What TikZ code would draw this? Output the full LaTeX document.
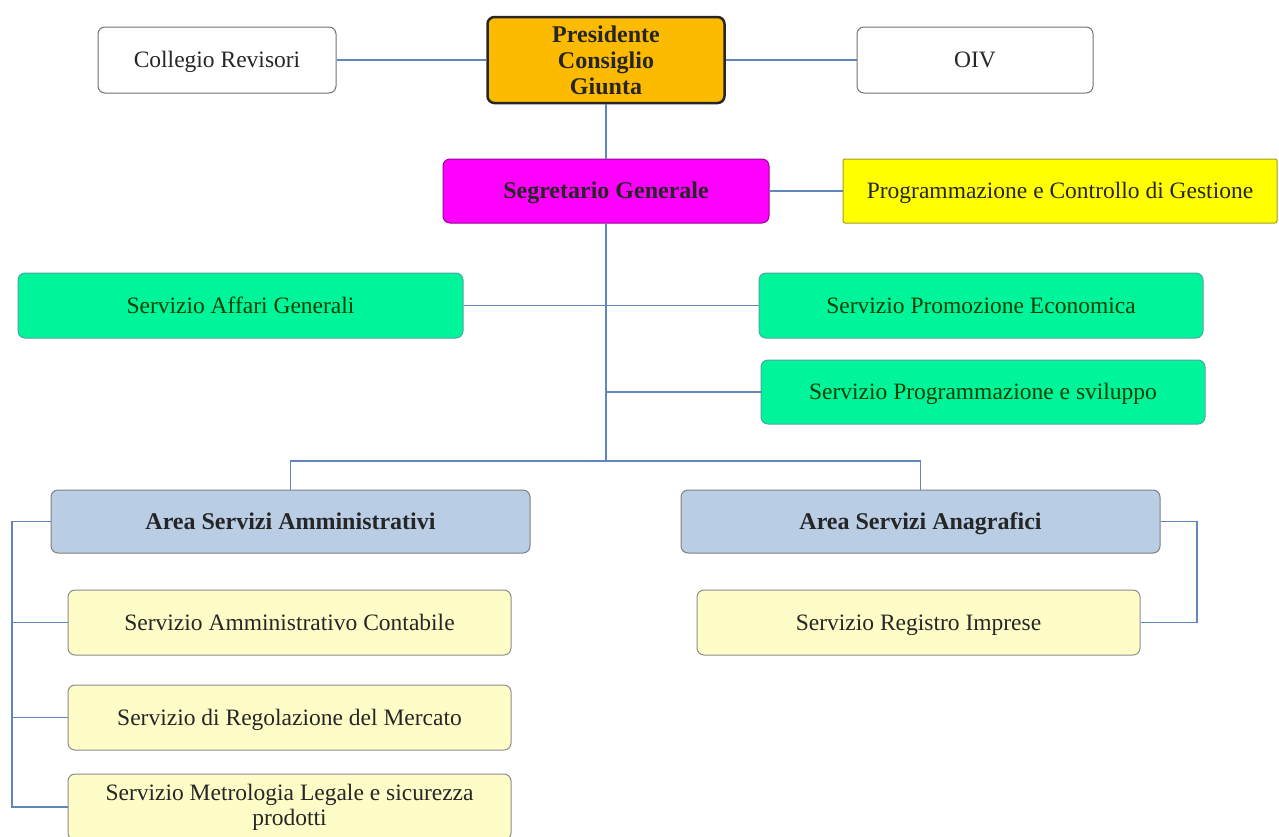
\documentclass[tikz,border=0pt]{standalone}
\usepackage{fontspec}
\setmainfont{Liberation Serif}
\begin{document}
\begin{tikzpicture}[x=1pt,y=-1pt,
  box/.style={draw, rounded corners=7pt, line width=1pt, align=center, inner sep=0pt, font=\fontsize{23.5}{25}\selectfont, text=black!85},
  one/.style={text height=19pt, text depth=4pt},
  bold/.style={font=\fontsize{24}{26}\selectfont\bfseries},
  conn/.style={draw=linkc, line width=1.6pt},
]
\definecolor{linkc}{RGB}{95,135,190}
\definecolor{orangec}{RGB}{252,186,0}
\definecolor{magc}{RGB}{255,0,255}
\definecolor{yelc}{RGB}{255,255,0}
\definecolor{greenc}{RGB}{0,245,155}
\definecolor{areac}{RGB}{185,205,228}
\definecolor{lyellow}{RGB}{254,253,200}
\path[use as bounding box] (0,0) rectangle (1279,836);
\clip (0,0) rectangle (1279,836);
\fill[white] (0,0) rectangle (1279,836);

\node[box, one, draw=black!55, fill=white, minimum width=238pt, minimum height=66pt] (coll) at (217,60) {Collegio Revisori};
\node[box, bold, draw=black!85, line width=2.5pt, fill=orangec, minimum width=237pt, minimum height=86pt] (pres) at (606,60) {Presidente\\Consiglio\\Giunta};
\node[box, one, draw=black!55, fill=white, minimum width=236pt, minimum height=66pt] (oiv) at (975,60) {OIV};
\node[box, one, bold, draw=magc!60!black, fill=magc, minimum width=326pt, minimum height=64pt] (seg) at (606,191) {Segretario Generale};
\node[box, one, draw=olive!80, fill=yelc, rounded corners=2pt, minimum width=434pt, minimum height=64pt] (prog) at (1060,191) {Programmazione e Controllo di Gestione};
\node[box, one, draw=teal!70, fill=greenc, minimum width=445pt, minimum height=65pt, text=green!25!black] (aff) at (240.5,305.5) {Servizio Affari Generali};
\node[box, one, draw=teal!70, fill=greenc, minimum width=444pt, minimum height=65pt, text=green!25!black] (prom) at (981,305.5) {Servizio Promozione Economica};
\node[box, one, draw=teal!70, fill=greenc, minimum width=444pt, minimum height=64pt, text=green!25!black] (svil) at (983,392) {Servizio Programmazione e sviluppo};
\node[box, one, bold, draw=black!50, fill=areac, minimum width=479pt, minimum height=63pt] (asa) at (290.5,521.5) {Area Servizi Amministrativi};
\node[box, one, bold, draw=black!50, fill=areac, minimum width=479pt, minimum height=63pt] (asn) at (920.5,521.5) {Area Servizi Anagrafici};
\node[box, one, draw=black!45, fill=lyellow, minimum width=443pt, minimum height=65pt] (cont) at (289.5,622.5) {Servizio Amministrativo Contabile};
\node[box, one, draw=black!45, fill=lyellow, minimum width=443pt, minimum height=65pt] (reg) at (289.5,717.5) {Servizio di Regolazione del Mercato};
\node[box, draw=black!45, fill=lyellow, minimum width=443pt, minimum height=66pt] (met) at (289.5,807) {Servizio Metrologia Legale e sicurezza\\prodotti};
\node[box, one, draw=black!45, fill=lyellow, minimum width=443pt, minimum height=65pt] (rim) at (918.5,622.5) {Servizio Registro Imprese};

\coordinate (j2) at (606,392);
\coordinate (j3) at (606,461);
\coordinate (lx) at (12,521.5);
\coordinate (rx) at (1197,521.5);

\draw[conn] (coll.east) -- (pres.west);
\draw[conn] (pres.east) -- (oiv.west);
\draw[conn] (pres.south) -- (seg.north);
\draw[conn] (seg.east) -- (prog.west);
\draw[conn] (seg.south) -- (j3);
\draw[conn] (aff.east) -- (prom.west);
\draw[conn] (j2) -- (svil.west);
\draw[conn] (asa.north) |- (j3) -| (asn.north);
\draw[conn] (asa.west) -- (lx) |- (met.west);
\draw[conn] (lx |- cont.west) -- (cont.west);
\draw[conn] (lx |- reg.west) -- (reg.west);
\draw[conn] (asn.east) -- (rx) |- (rim.east);
\end{tikzpicture}
\end{document}
